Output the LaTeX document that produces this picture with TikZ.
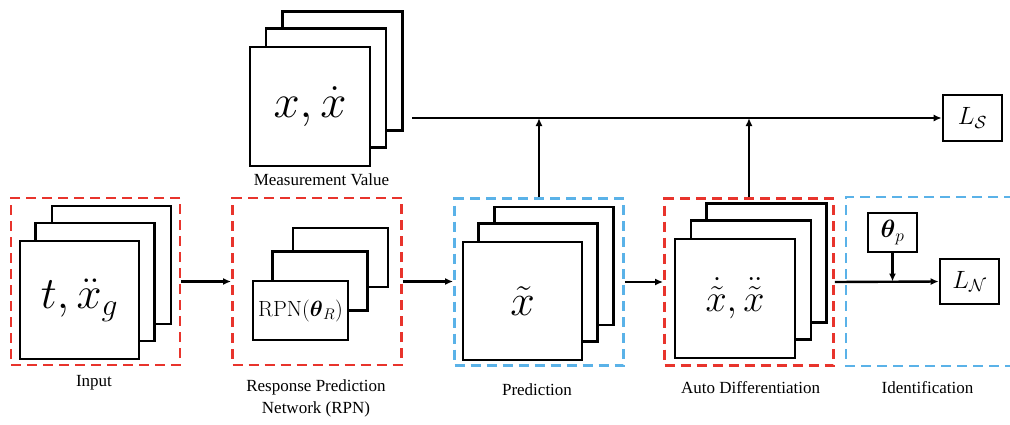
\documentclass[tikz,border=0pt]{standalone}
\usepackage{fix-cm}
\usepackage{amsmath}
\usepackage[no-math]{fontspec}
\setmainfont{Liberation Serif}
\usetikzlibrary{arrows.meta}
\definecolor{dred}{RGB}{232,52,44}
\definecolor{dblue}{RGB}{90,178,232}
\tikzset{
  card/.style={draw, fill=white, line width=2.6pt, inner sep=0pt, minimum width=119, minimum height=118},
  rcard/.style={card, minimum width=95, minimum height=59},
  loss/.style={draw, line width=2.6pt, inner sep=0pt, minimum width=59, minimum height=46},
  dashpat/.style={line width=2.8pt, dash pattern=on 10pt off 6pt},
  rgroup/.style={draw=dred, dashpat, minimum width=169, minimum height=167, inner sep=0pt},
  bgroup/.style={rgroup, draw=dblue},
  lab/.style={font=\fontsize{17}{20}\selectfont, align=center, inner sep=0pt},
  arr/.style={line width=2.4pt, -{Latex[length=8pt,width=7pt]}},
  big/.style={font=\fontsize{47}{50}\selectfont},
  mid/.style={font=\fontsize{25}{28}\selectfont},
}
\begin{document}
\begin{tikzpicture}[x=1pt,y=-1pt]
\useasboundingbox (0,0) rectangle (1010,424);
% group boxes
\node[rgroup] (inbox) at (95.5,281.5) {};
\node[rgroup] (rpnbox) at (317,281.5) {};
\node[bgroup] (predbox) at (539,282) {};
\node[rgroup] (adbox) at (749,282) {};
\draw[draw=dblue, dashpat] (1014,197) -- (846,197) -- (846,366) -- (1014,366);
% measurement stack
\node[card, minimum width=120, minimum height=119] (ms3) at (342.5,71) {};
\node[card, minimum width=120, minimum height=119] (ms2) at (326,88) {};
\node[card, minimum width=120, minimum height=119, big] (ms1) at (310,106.5) {$x,\dot{x}$};
\node[lab] (mslab) at (321.5,180) {Measurement Value};
% input stack
\node[card] (in3) at (111.5,265) {};
\node[card] (in2) at (95,282) {};
\node[card, font=\fontsize{45}{48}\selectfont] (in1) at (79.5,300) {$t,\ddot{x}_g$};
\node[lab] (inlab) at (94,383) {Input};
% RPN stack
\node[rcard] (rpn3) at (340.5,257.5) {};
\node[rcard] (rpn2) at (320,281) {};
\node[rcard, font=\fontsize{22}{24}\selectfont] (rpn1) at (300.5,310.5) {$\mathrm{RPN}(\boldsymbol{\theta}_R)$};
\node[lab] (rpnlab) at (316,398) {Response Prediction\\[2pt]Network (RPN)};
% prediction stack
\node[card] (pr3) at (554,266) {};
\node[card] (pr2) at (538,282.5) {};
\node[card, font=\fontsize{44}{48}\selectfont] (pr1) at (522.5,301) {$\tilde{x}$};
\node[lab] (prlab) at (537,390) {Prediction};
% auto differentiation stack
\node[card, minimum width=120, minimum height=119] (ad3) at (766.5,263) {};
\node[card, minimum width=120, minimum height=119] (ad2) at (751,280) {};
\node[card, minimum width=120, minimum height=119, font=\fontsize{38}{42}\selectfont] (ad1) at (735,298.5) {$\dot{\tilde{x}},\ddot{\tilde{x}}$};
\node[lab] (adlab) at (750.5,388) {Auto Differentiation};
% identification
\node[loss, minimum width=49, minimum height=39, mid] (thp) at (892.5,232.5) {$\boldsymbol{\theta}_p$};
\node[loss, minimum height=45, mid] (LN) at (969.5,281.5) {$L_{\mathcal{N}}$};
\node[lab] (idlab) at (927.5,388) {Identification};
\node[loss, mid] (LS) at (972.5,118) {$L_{\mathcal{S}}$};
% connectors
\coordinate (msout) at (412,118);
\draw[arr] (inbox.east) -- (rpnbox.west);
\draw[arr] (rpnbox.east) -- (predbox.west |- rpnbox.east);
\draw[arr] (predbox.east) -- (adbox.west);
\draw[arr] (adbox.east) -- (LN.west);
\draw[arr] (thp.south) -- (thp.south |- LN.west);
\draw[arr] (msout) -- (LS.west);
\draw[arr] (predbox.north) -- (predbox.north |- msout);
\draw[arr] (adbox.north) -- (adbox.north |- msout);
\end{tikzpicture}
\end{document}
